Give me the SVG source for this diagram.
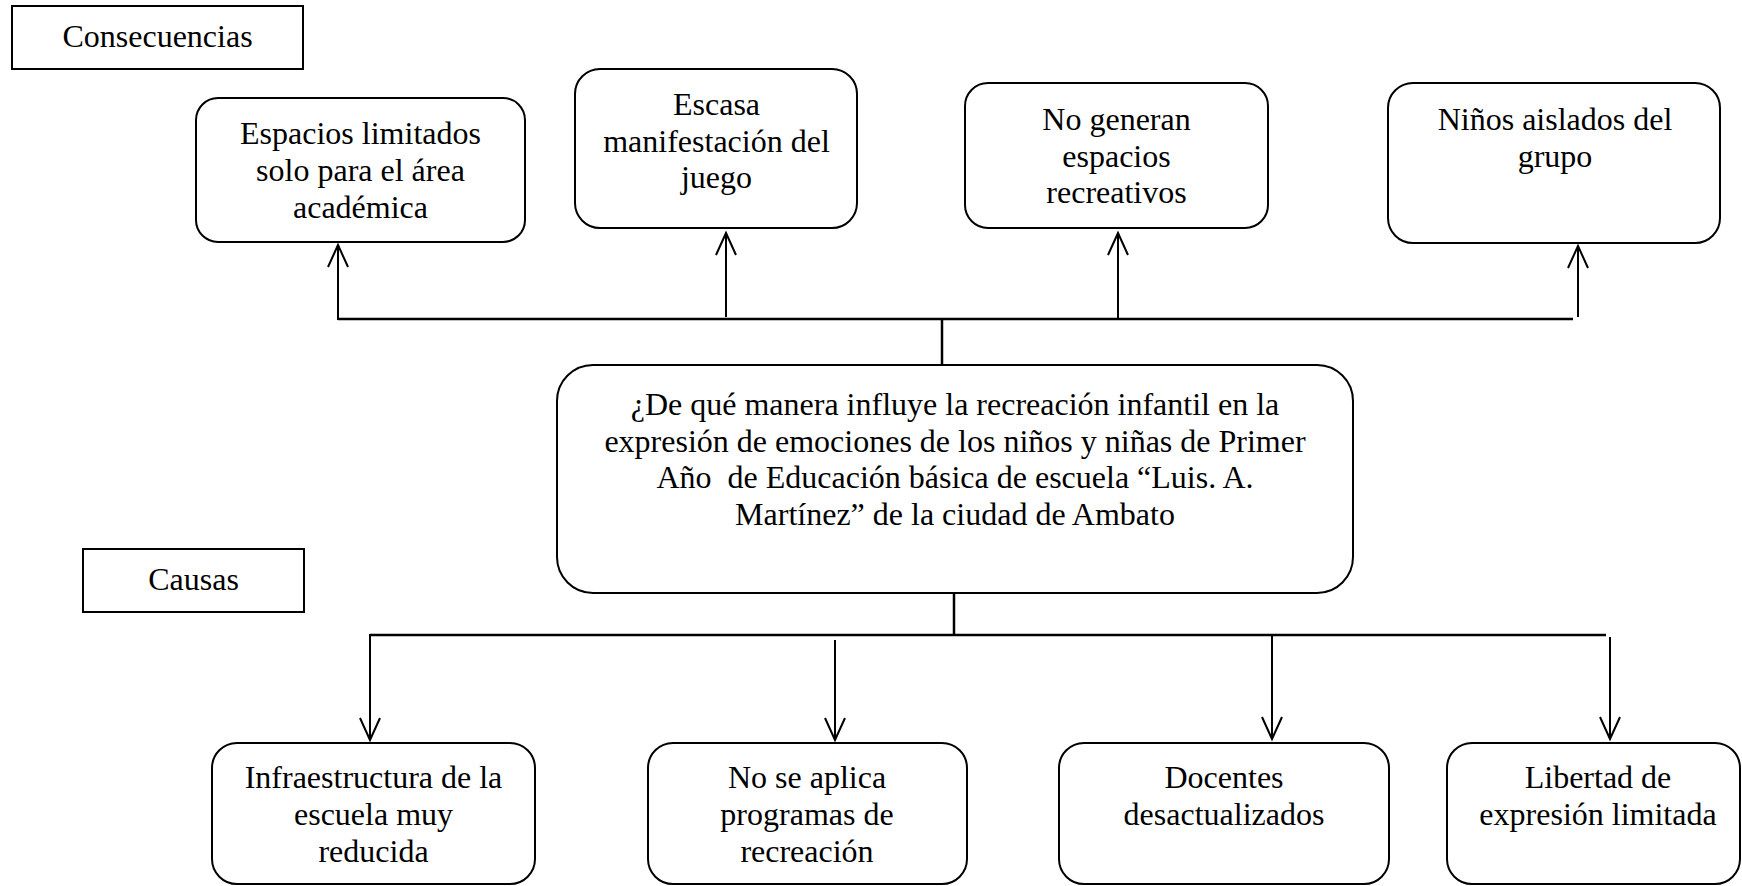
<svg xmlns="http://www.w3.org/2000/svg" width="1742" height="886" viewBox="0 0 1742 886">
<style>
.box{fill:#fff;stroke:#000;stroke-width:2}
.t{font-family:"Liberation Serif","Times New Roman",serif;font-size:32px;fill:#000;text-anchor:middle;white-space:pre}
.ln{fill:none;stroke:#000;stroke-width:2.5}
.ar{fill:none;stroke:#000;stroke-width:2}
</style>
<rect width="1742" height="886" fill="#fff"/>
<g id="consecuencias">
<rect class="box" x="12" y="6" width="291" height="63"/>
<text class="t" x="157.5" y="47">Consecuencias</text>
</g>
<g id="causas">
<rect class="box" x="83" y="549" width="221" height="63"/>
<text class="t" x="193.5" y="590">Causas</text>
</g>
<g id="c1">
<rect class="box" x="196" y="98" width="329" height="144" rx="22"/>
<text class="t" x="360.5" y="144">Espacios limitados</text>
<text class="t" x="360.5" y="181">solo para el área</text>
<text class="t" x="360.5" y="218">académica</text>
</g>
<g id="c2">
<rect class="box" x="575" y="69" width="282" height="159" rx="25"/>
<text class="t" x="716.5" y="115">Escasa</text>
<text class="t" x="716.5" y="152">manifestación del</text>
<text class="t" x="716.5" y="188">juego</text>
</g>
<g id="c3">
<rect class="box" x="965" y="83" width="303" height="145" rx="23"/>
<text class="t" x="1116.5" y="130">No generan</text>
<text class="t" x="1116.5" y="167">espacios</text>
<text class="t" x="1116.5" y="203">recreativos</text>
</g>
<g id="c4">
<rect class="box" x="1388" y="83" width="332" height="160" rx="25"/>
<text class="t" x="1555" y="130">Niños aislados del</text>
<text class="t" x="1555" y="167">grupo</text>
</g>
<g id="problema">
<rect class="box" x="557" y="365" width="796" height="228" rx="36"/>
<text class="t" x="955" y="415">¿De qué manera influye la recreación infantil en la</text>
<text class="t" x="955" y="452">expresión de emociones de los niños y niñas de Primer</text>
<text class="t" x="955" y="488">Año  de Educación básica de escuela “Luis. A.</text>
<text class="t" x="955" y="525">Martínez” de la ciudad de Ambato</text>
</g>
<g id="k1">
<rect class="box" x="212" y="743" width="323" height="141" rx="25"/>
<text class="t" x="373.5" y="788">Infraestructura de la</text>
<text class="t" x="373.5" y="825">escuela muy</text>
<text class="t" x="373.5" y="862">reducida</text>
</g>
<g id="k2">
<rect class="box" x="648" y="743" width="319" height="141" rx="25"/>
<text class="t" x="807" y="788">No se aplica</text>
<text class="t" x="807" y="825">programas de</text>
<text class="t" x="807" y="862">recreación</text>
</g>
<g id="k3">
<rect class="box" x="1059" y="743" width="330" height="141" rx="25"/>
<text class="t" x="1224" y="788">Docentes</text>
<text class="t" x="1224" y="825">desactualizados</text>
</g>
<g id="k4">
<rect class="box" x="1447" y="743" width="293" height="141" rx="25"/>
<text class="t" x="1598" y="788">Libertad de</text>
<text class="t" x="1598" y="825">expresión limitada</text>
</g>
<g id="connectors">
<path class="ln" d="M338 319 H1573"/>
<path class="ln" d="M942 319 V365"/>
<path class="ar" d="M338 320 V245 M328 267 L338 245 L348 267"/>
<path class="ar" d="M726 317 V233 M716 255 L726 233 L736 255"/>
<path class="ar" d="M1118 319 V233 M1108 255 L1118 233 L1128 255"/>
<path class="ar" d="M1578 317 V246 M1568 268 L1578 246 L1588 268"/>
<path class="ln" d="M370 635 H1606"/>
<path class="ln" d="M954 593 V635"/>
<path class="ar" d="M370 634 V740 M360 718 L370 740 L380 718"/>
<path class="ar" d="M835 640 V740 M825 718 L835 740 L845 718"/>
<path class="ar" d="M1272 635 V739 M1262 717 L1272 739 L1282 717"/>
<path class="ar" d="M1610 637 V739 M1600 717 L1610 739 L1620 717"/>
</g>
</svg>
